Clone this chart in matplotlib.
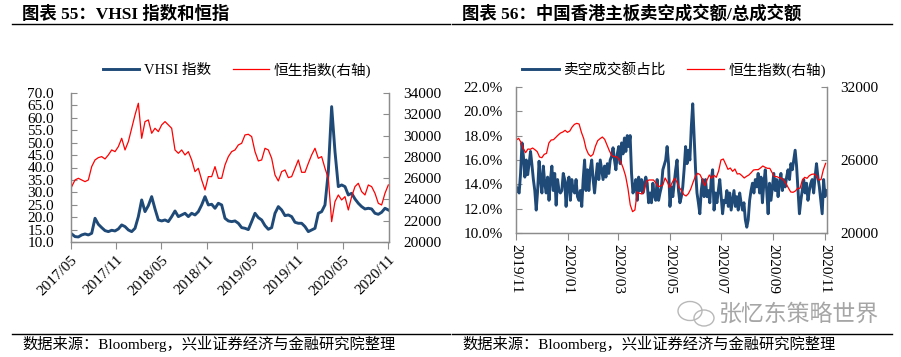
import matplotlib
matplotlib.use("Agg")
import matplotlib.pyplot as plt
import matplotlib.dates as mdates
from matplotlib.lines import Line2D
from matplotlib.patches import Ellipse
import numpy as np
import pandas as pd

# ---- data: left chart, VHSI vs HSI (roughly every two weeks) ----
vhsi = [13.24, 12.17, 12.03, 12.84, 13.24, 12.84, 13.51, 19.55, 17.13, 15.79,
        14.58, 14.18, 14.72, 14.45, 15.26, 16.87, 16.20, 14.85, 14.18, 15.52,
        20.22, 26.93, 22.23, 24.65, 28.27, 23.31, 18.88, 18.48, 18.88, 18.21,
        20.22, 22.50, 20.22, 20.89, 21.56, 20.22, 21.56, 20.89, 22.23, 24.92,
        28.27, 24.92, 25.19, 23.58, 25.59,
        24.92, 19.55, 18.48, 18.21, 18.48, 17.54, 15.79, 15.52, 14.99, 18.21,
        21.56, 19.82, 18.88, 16.60, 15.12, 15.79, 21.56, 24.25, 22.90, 20.62,
        20.89, 20.22, 17.94, 17.54, 17.54, 16.20, 14.18, 14.85, 15.52, 21.56,
        22.23, 24.92, 38.34, 64.51, 46.40, 32.30, 32.97, 32.30, 28.94, 29.61,
        27.33, 25.59, 24.25, 23.31, 23.58, 23.31, 21.56, 21.16, 21.97, 23.58,
        22.90]
hsi_long = [25202, 25829, 25986, 25829, 25672, 25829, 27082, 27709, 27928, 28022,
            27803, 28179, 28649, 28492, 28962, 29745, 28649, 29432, 30685, 31938,
            33035, 29745, 31312, 31468, 30215, 30685, 30372, 31002, 31312, 31002,
            30685, 28649, 28335, 28649, 28179, 28492, 27709, 26612, 26925, 25829,
            24889, 26142, 26142, 27082, 25986,
            25986, 27239, 28022, 28492, 28649, 29119, 29275, 30058, 30121, 29902,
            28492, 27615, 27709, 28805, 28649, 27865, 26299, 25735, 26612, 26769,
            26049, 26142, 26925, 27709, 26549, 26549, 27396, 28179, 28805, 27865,
            28022, 26925, 25986, 21913, 23793, 24419, 23949, 24262, 23009, 24262,
            25202, 25516, 24732, 24419, 25359, 25202, 24576, 23636, 23479, 24576,
            25359]
dates_long = pd.date_range("2017-05-05", "2020-11-01", periods=len(vhsi))

# ---- data: right chart, short-selling share vs HSI ----
short_pct = [13.8, 13.5, 13.3, 14.9, 17.4, 16.3, 14.6, 16.0, 14.8, 15.7,
             16.7, 15.6, 14.4, 13.5, 11.9, 13.5, 15.9, 14.4, 13.3, 15.5,
             14.1, 13.3, 14.6, 12.7, 14.4, 15.5, 13.5, 14.9, 12.3, 14.4,
             13.5, 13.3, 13.5, 14.9, 14.4, 12.2, 14.1, 14.6, 12.7, 14.4,
             13.5, 13.3, 14.4, 13.0, 12.7, 13.5, 12.2, 14.4, 16.0, 13.5,
             15.2, 13.5, 15.2, 16.0, 14.4, 13.3, 14.6, 15.7, 14.4, 16.0,
             15.2, 14.4, 15.5, 14.6, 15.7, 14.9, 16.0, 16.3, 17.0, 16.0,
             15.2, 16.5, 17.1, 15.7, 17.4, 16.5, 17.8, 16.7, 18.0, 17.1,
             18.0, 14.9, 13.3, 13.7, 14.4, 12.7, 14.6, 13.5, 14.4, 13.3,
             14.1, 14.6, 14.1, 12.5, 13.3, 12.5, 14.1, 13.1, 12.7, 14.4,
             12.7, 13.3, 13.8, 15.2,
             15.6, 16.0, 17.1, 15.7, 12.2, 13.8, 13.0, 14.1, 15.2, 16.0,
             13.5, 12.5, 13.0, 13.8, 15.3, 17.1, 15.7, 16.8, 16.0, 18.7,
             20.6, 17.9, 15.2, 13.3, 12.5, 11.6, 13.5, 14.4, 13.0, 14.4,
             13.0, 13.5, 12.5, 14.4, 15.2, 11.9, 13.3, 12.5, 13.5, 14.4,
             13.0, 11.6, 12.7, 12.5, 13.5, 12.2, 13.3, 11.9, 12.7, 13.5,
             12.2, 13.0, 11.9, 13.3, 12.5, 11.9, 12.5, 11.1, 10.5, 11.1,
             12.7, 13.5, 14.1, 13.3, 14.4, 13.8, 14.9, 13.3, 14.6, 12.5,
             14.1, 15.2, 13.5, 11.6, 14.1, 12.7, 13.8, 14.9, 13.5, 14.4,
             13.0, 14.1, 14.9, 13.5, 14.4, 13.8, 14.6, 15.2, 14.4, 15.7,
             15.2, 16.0, 16.8, 15.5, 13.5, 11.6, 12.7, 13.5, 14.4, 13.3,
             14.1, 12.7, 13.5, 14.1, 14.4, 13.3, 14.6, 15.7, 14.6, 13.8,
             12.7, 11.6, 14.4, 13.0, 13.5]
hsi_short = [27636, 27773, 27446, 26955, 26600, 26900, 26873, 26982, 26846, 26682,
             26245, 26191, 26464, 26545, 27391, 27636, 27664, 27855, 28045, 28209,
             28291, 28427, 28264, 28373, 28700, 28918, 29000, 28945, 28264, 27745,
             26927, 26491, 26300, 26464, 27118, 27582, 27745, 27882, 27691, 27227,
             26764, 26382, 26273, 26273, 26109, 25809, 25318, 24691, 23682, 22319,
             21773, 21910, 23382, 23273, 23219, 23464, 24255, 24364, 24364, 24364,
             24119, 23819, 23873, 23955,
             24528, 24173, 23737, 24146, 24500, 24228, 23764, 23518, 23164, 23055,
             23246, 23627, 24173, 24664, 24909, 24800, 24418, 23900, 24364, 24773,
             24500, 24746, 24582, 25100, 25998, 26082, 25673, 25237, 25346, 25073,
             25264, 24855, 24882, 24718, 24528, 24664, 24773, 24964, 25182, 25209,
             25209, 25346, 25509, 25400, 25318, 25318, 24964, 24637, 24637, 24555,
             24500, 24337, 24064, 23709, 23382, 23355, 23464, 23682, 23682, 24364,
             24582, 24500, 24718, 24827, 24855, 24718, 24364, 24391, 25182, 25727]
dates_pct = pd.date_range("2019-11-01", "2020-11-03", periods=len(short_pct))
dates_hsi = pd.date_range("2019-11-01", "2020-11-02", periods=len(hsi_short))

long_ticks = ["2017-05-01", "2017-11-01", "2018-05-01", "2018-11-01",
              "2019-05-01", "2019-11-01", "2020-05-01", "2020-11-01"]
short_ticks = ["2019-11-01", "2020-01-01", "2020-03-01", "2020-05-01",
               "2020-07-01", "2020-09-01", "2020-11-01"]

BLUE = "#1F4A78"
RED = "#FF0000"
GREY = "#8C8C8C"
FONTS = ["Liberation Serif", "Noto Sans CJK SC"]

plt.rcParams["font.family"] = FONTS

W, H = 901, 357
fig = plt.figure(figsize=(W / 100, H / 100), dpi=100)


def fx(px):
    return px / W


def fy(py):
    return 1 - py / H


def style(ax, axr, ypad_l, ypad_r):
    for a in (ax, axr):
        a.spines["top"].set_visible(False)
        for s in ("left", "right", "bottom"):
            a.spines[s].set_color(GREY)
            a.spines[s].set_linewidth(0.9)
    ax.tick_params(axis="y", direction="in", length=4, color=GREY,
                   labelsize=11, pad=ypad_l)
    axr.tick_params(axis="y", direction="in", length=4, color=GREY,
                    labelsize=11, pad=ypad_r)
    ax.tick_params(axis="x", direction="out", length=5, color=GREY,
                   labelsize=11, pad=3)
    ax.patch.set_visible(False)


# ---------------- left chart ----------------
ax1 = fig.add_axes([fx(70.7), fy(242), fx(389.3 - 70.7), (242 - 93) / H])
ax1r = ax1.twinx()
l1, = ax1.plot(dates_long, vhsi, color=BLUE, lw=2.1, label="VHSI 指数")
l2, = ax1r.plot(dates_long, hsi_long, color=RED, lw=0.9, label="恒生指数(右轴)")
ax1.set_ylim(10, 70)
ax1.set_yticks(np.arange(10, 71, 5))
ax1.yaxis.set_major_formatter(plt.FuncFormatter(lambda v, p: f"{v:.1f}"))
ax1r.set_ylim(20000, 34000)
ax1r.set_yticks(np.arange(20000, 34001, 2000))
ax1.set_xlim(pd.Timestamp("2017-05-01"), pd.Timestamp("2020-11-05"))
ax1.set_xticks(pd.to_datetime(long_ticks))
ax1.xaxis.set_major_formatter(mdates.DateFormatter("%Y/%m"))
style(ax1, ax1r, 12, 10)
for lab in ax1.get_xticklabels():
    lab.set_rotation(45)
    lab.set_ha("right")
    lab.set_rotation_mode("anchor")

fig.legend(handles=[l1, l2], loc="center", bbox_to_anchor=(fx(237), fy(70)),
           ncol=2, frameon=False, handlelength=2.5, handletextpad=0.3,
           columnspacing=1.5, prop={"family": FONTS, "size": 10.5})

# ---------------- right chart ----------------
ax2 = fig.add_axes([fx(516.3), fy(233.3), fx(827.3 - 516.3), (233.3 - 86.7) / H])
ax2r = ax2.twinx()
l3, = ax2.plot(dates_pct, short_pct, color=BLUE, lw=2.1, label="卖空成交额占比")
l4, = ax2r.plot(dates_hsi, hsi_short, color=RED, lw=0.9, label="恒生指数(右轴)")
ax2.set_ylim(10, 22)
ax2.set_yticks(np.arange(10, 22.1, 2))
ax2.yaxis.set_major_formatter(plt.FuncFormatter(lambda v, p: f"{v:.1f}%"))
ax2r.set_ylim(20000, 32000)
ax2r.set_yticks([20000, 26000, 32000])
ax2.set_xlim(pd.Timestamp("2019-11-01"), pd.Timestamp("2020-11-04"))
ax2.set_xticks(pd.to_datetime(short_ticks))
ax2.xaxis.set_major_formatter(mdates.DateFormatter("%Y/%m"))
style(ax2, ax2r, 9.5, 9.5)
for lab in ax2.get_xticklabels():
    lab.set_rotation(-90)
    lab.set_ha("center")
    lab.set_va("top")

fig.legend(handles=[l3, l4], loc="center", bbox_to_anchor=(fx(674), fy(70)),
           ncol=2, frameon=False, handlelength=2.5, handletextpad=0.3,
           columnspacing=1.5, prop={"family": FONTS, "size": 10.5})

# ---------------- titles, rules, sources ----------------
fig.text(fx(22), fy(14), "图表 55：VHSI 指数和恒指", ha="left", va="center",
         fontsize=12.5, fontweight="bold", family=FONTS)
fig.text(fx(462), fy(14), "图表 56：中国香港主板卖空成交额/总成交额", ha="left",
         va="center", fontsize=12.5, fontweight="bold", family=FONTS)
for x0, x1 in ((12, 450), (452, 892)):
    fig.add_artist(Line2D([fx(x0), fx(x1)], [fy(24), fy(24)], color="black", lw=1))
    fig.add_artist(Line2D([fx(x0), fx(x1)], [fy(334), fy(334)], color="black", lw=1))

src = "数据来源：Bloomberg，兴业证券经济与金融研究院整理"
fig.text(fx(22), fy(344), src, ha="left", va="center", fontsize=11,
         family=FONTS)
fig.text(fx(462), fy(344), src, ha="left", va="center", fontsize=11,
         family=FONTS)

# watermark
fig.add_artist(Ellipse((fx(690), fy(311)), fx(24), 19 / H, fill=False,
                       ec="#B8B8B8", lw=1))
fig.add_artist(Ellipse((fx(704), fy(318)), fx(20), 16 / H, fill=False,
                       ec="#B8B8B8", lw=1))
fig.text(fx(719), fy(315), "张忆东策略世界", ha="left", va="center",
         fontsize=16.5, color="#A6A6A6", family=FONTS)

fig.savefig("out.png", dpi=100)
